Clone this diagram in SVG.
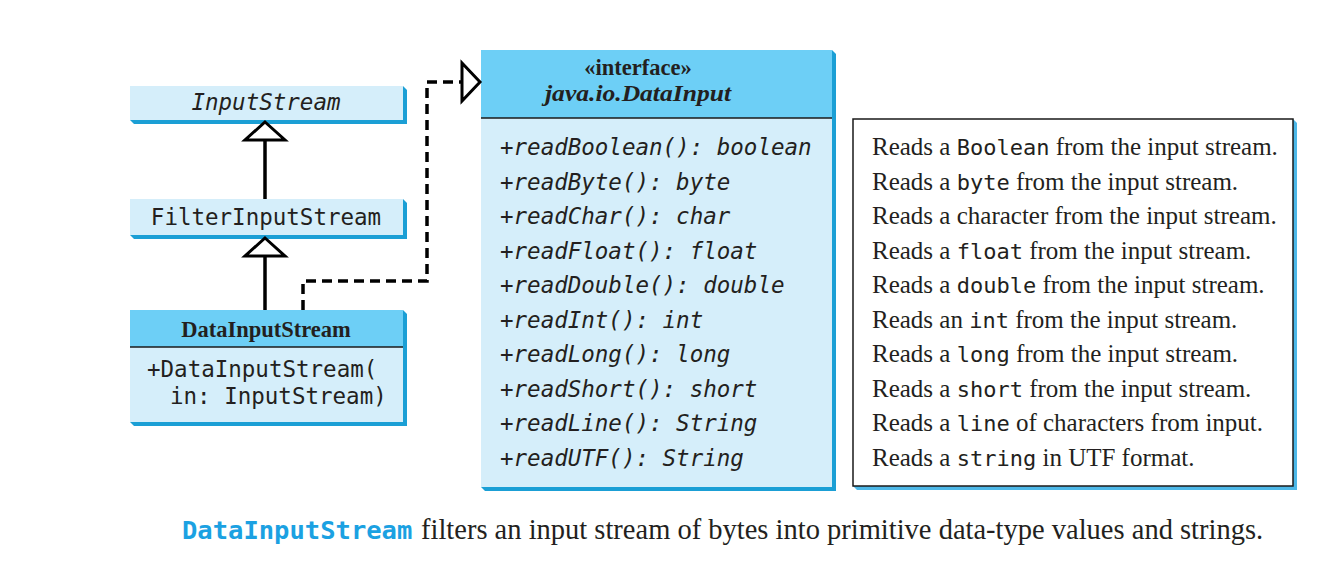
<svg xmlns="http://www.w3.org/2000/svg" width="1319" height="570" viewBox="0 0 1319 570">
<style>
.body{fill:#d5eefa}
.head{fill:#6dcff6}
.shadow{fill:#1b9fd5}
.div{stroke:#1a1a1a;stroke-width:1.5}
.mono{font-family:"DejaVu Sans Mono","Liberation Mono",monospace;font-size:22.5px;fill:#231f20}
.it{font-style:italic}
.serif{font-family:"Liberation Serif","Times New Roman",serif;fill:#231f20}
.title{font-weight:bold;font-size:22.5px}
.note{font-size:25px}
.notemono{font-family:"DejaVu Sans Mono","Liberation Mono",monospace;font-size:22px}
.line{fill:none;stroke:#000;stroke-width:3.5}
.dash{fill:none;stroke:#000;stroke-width:3.5;stroke-dasharray:10 6}
.tri{fill:#fff;stroke:#000;stroke-width:3;stroke-linejoin:miter}
</style>
<rect width="1319" height="570" fill="#fff"/>

<g id="InputStream">
<polygon class="shadow" points="403,86 407,90 407,124 134,124 130,120 403,120"/>
<rect class="body" x="130" y="86" width="273" height="34"/>
<text class="mono it" x="266" y="110" text-anchor="middle">InputStream</text>
</g>

<g id="FilterInputStream">
<polygon class="shadow" points="403,199 407,203 407,239 134,239 130,235 403,235"/>
<rect class="body" x="130" y="199" width="273" height="36"/>
<text class="mono" x="266" y="225" text-anchor="middle">FilterInputStream</text>
</g>

<g id="DataInputStream">
<polygon class="shadow" points="403,310 407,314 407,426 134,426 130,422 403,422"/>
<rect class="head" x="130" y="310" width="273" height="37"/>
<rect class="body" x="130" y="347" width="273" height="75"/>
<line class="div" x1="130" y1="347" x2="403" y2="347"/>
<text class="serif title" x="266" y="337" text-anchor="middle">DataInputStream</text>
<text class="mono" x="147" y="377">+DataInputStream(</text>
<text class="mono" x="170" y="404">in: InputStream)</text>
</g>

<g id="DataInput">
<polygon class="shadow" points="832,50 836,54 836,491 485,491 481,487 832,487"/>
<rect class="head" x="481" y="50" width="351" height="68"/>
<rect class="body" x="481" y="118" width="351" height="369"/>
<line class="div" x1="481" y1="118" x2="832" y2="118"/>
<text class="serif title" x="638" y="75" text-anchor="middle">«interface»</text>
<text class="serif title it" x="545" y="101" font-size="25.5" textLength="186" lengthAdjust="spacingAndGlyphs">java.io.DataInput</text>
<g class="mono it">
<text x="500" y="155">+readBoolean(): boolean</text>
<text x="500" y="189.5">+readByte(): byte</text>
<text x="500" y="224">+readChar(): char</text>
<text x="500" y="258.5">+readFloat(): float</text>
<text x="500" y="293">+readDouble(): double</text>
<text x="500" y="327.5">+readInt(): int</text>
<text x="500" y="362">+readLong(): long</text>
<text x="500" y="396.5">+readShort(): short</text>
<text x="500" y="431">+readLine(): String</text>
<text x="500" y="465.5">+readUTF(): String</text>
</g>
</g>

<g id="notes">
<polygon points="1293,119 1297,123 1297,490 857,490 853,486 1293,486" fill="#4db8e8"/>
<rect x="853" y="119" width="440" height="367" fill="#fff" stroke="#1a1a1a" stroke-width="1.5"/>
<g class="serif note">
<text x="872" y="155">Reads a <tspan class="notemono">Boolean</tspan> from the input stream.</text>
<text x="872" y="189.5">Reads a <tspan class="notemono">byte</tspan> from the input stream.</text>
<text x="872" y="224">Reads a character from the input stream.</text>
<text x="872" y="258.5">Reads a <tspan class="notemono">float</tspan> from the input stream.</text>
<text x="872" y="293">Reads a <tspan class="notemono">double</tspan> from the input stream.</text>
<text x="872" y="327.5">Reads an <tspan class="notemono">int</tspan> from the input stream.</text>
<text x="872" y="362">Reads a <tspan class="notemono">long</tspan> from the input stream.</text>
<text x="872" y="396.5">Reads a <tspan class="notemono">short</tspan> from the input stream.</text>
<text x="872" y="431">Reads a <tspan class="notemono">line</tspan> of characters from input.</text>
<text x="872" y="465.5">Reads a <tspan class="notemono">string</tspan> in UTF format.</text>
</g>
</g>

<g id="connectors">
<line class="line" x1="265" y1="140" x2="265" y2="199"/>
<polygon class="tri" points="265,122 285,140 245,140"/>
<line class="line" x1="265" y1="256" x2="265" y2="310"/>
<polygon class="tri" points="265,238 285,256 245,256"/>
<path class="dash" d="M303,310 V281 H427 V82 H462"/>
<polygon class="tri" points="462,63 480,82 462,101"/>
</g>

<g id="caption">
<text x="182" y="539" font-family="DejaVu Sans Mono, monospace" font-weight="bold" font-size="25.5" fill="#1ba1e2">DataInputStream</text>
<text x="421" y="539" class="serif" font-size="28.5">filters an input stream of bytes into primitive data-type values and strings.</text>
</g>
</svg>
